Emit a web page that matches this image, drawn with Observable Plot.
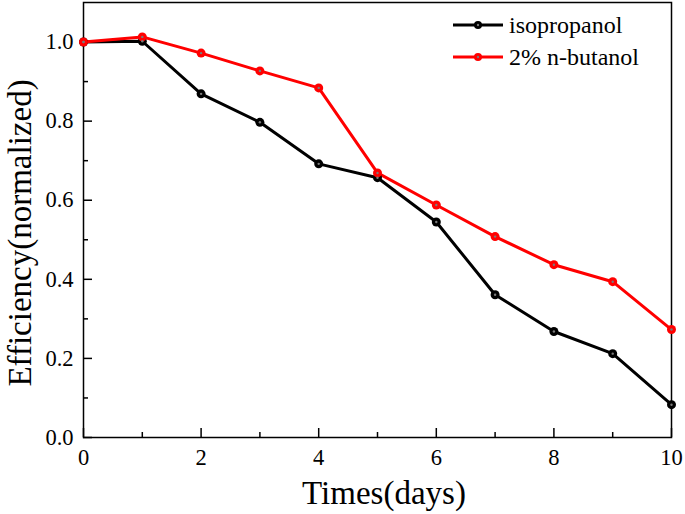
<!DOCTYPE html>
<html>
<head>
<meta charset="utf-8">
<script src="https://cdn.jsdelivr.net/npm/d3@7"></script>
<script src="https://cdn.jsdelivr.net/npm/@observablehq/plot@0.6"></script>
<style>
  html, body { margin: 0; padding: 0; background: #fff; }
  #wrap { position: relative; width: 685px; height: 514px; }
  #legend { position: absolute; left: 453px; top: 9px; font-family: 'Liberation Serif', serif; font-size: 24px; color: #000; }
  #legend .row { display: flex; align-items: center; height: 32px; }
  #legend svg { margin-right: 6px; }
</style>
</head>
<body>
<div id="wrap"><div id="legend"></div></div>
<script>
const days = [0, 1, 2, 3, 4, 5, 6, 7, 8, 9, 10];
const isopropanol = [1.0, 1.002, 0.869, 0.797, 0.692, 0.657, 0.545, 0.361, 0.268, 0.212, 0.083];
const butanol = [1.0, 1.013, 0.972, 0.927, 0.884, 0.669, 0.588, 0.508, 0.437, 0.394, 0.273];
const seriesNames = ["isopropanol", "2% n-butanol"];
const seriesColors = ["#000000", "#ff0000"];
const xMajor = [0, 2, 4, 6, 8, 10];
const xMinor = [1, 3, 5, 7, 9];
const yMajor = [0.0, 0.2, 0.4, 0.6, 0.8, 1.0];
const yMinor = [0.1, 0.3, 0.5, 0.7, 0.9];

const data = [];
[isopropanol, butanol].forEach((vals, s) => {
  days.forEach((d, i) => data.push({series: seriesNames[s], day: d, value: vals[i]}));
});

const font = "Liberation Serif";
const W = 685, H = 514, mL = 83, mR = 14, mT = 2, mB = 77;
const plotW = W - mL - mR, plotH = H - mT - mB;

const chart = Plot.plot({
  width: W,
  height: H,
  marginLeft: mL,
  marginRight: mR,
  marginTop: mT,
  marginBottom: mB,
  style: {fontFamily: font, fontSize: "22px", background: "#fff", color: "#000"},
  x: {domain: [0, 10]},
  y: {domain: [0, 1.1]},
  color: {domain: seriesNames, range: seriesColors},
  marks: [
    Plot.axisX(xMajor, {tickSize: 0, tickPadding: 12, tickFormat: d3.format("d"), fontSize: 22.5, fontFamily: font, label: null}),
    Plot.axisY(yMajor, {tickSize: 0, tickPadding: 10, tickFormat: d3.format(".1f"), fontSize: 22.5, fontFamily: font, label: null}),
    Plot.tickX(xMajor, {x: d => d, insetTop: plotH - 9, stroke: "#000", strokeWidth: 1.5}),
    Plot.tickX(xMinor, {x: d => d, insetTop: plotH - 5, stroke: "#000", strokeWidth: 1.5}),
    Plot.tickY(yMajor, {y: d => d, insetRight: plotW - 9, stroke: "#000", strokeWidth: 1.5}),
    Plot.tickY(yMinor, {y: d => d, insetRight: plotW - 5, stroke: "#000", strokeWidth: 1.5}),
    Plot.frame({stroke: "#000", strokeWidth: 1.5}),
    Plot.line(data, {x: "day", y: "value", z: "series", stroke: "series", strokeWidth: 3}),
    Plot.dot(data, {x: "day", y: "value", fill: "series", r: 4.5}),
    Plot.dot(data, {x: "day", y: "value", fill: "#7a7a7a", r: 1.2})
  ]
});

const svg = d3.select(chart);
svg.append("text")
  .attr("x", 384).attr("y", 504)
  .attr("text-anchor", "middle")
  .style("font-family", font).style("font-size", "33px")
  .text("Times(days)");
svg.append("text")
  .attr("transform", `translate(31,${233}) rotate(-90)`)
  .attr("text-anchor", "middle")
  .style("font-family", font).style("font-size", "33px")
  .text("Efficiency(normalized)");

document.getElementById("wrap").prepend(chart);

const legend = document.getElementById("legend");
seriesNames.forEach((name, i) => {
  const row = document.createElement("div");
  row.className = "row";
  row.innerHTML = `<svg width="50" height="12"><line x1="0" y1="6" x2="50" y2="6" stroke="${seriesColors[i]}" stroke-width="3"/><circle cx="25" cy="6" r="4" fill="${seriesColors[i]}"/><circle cx="25" cy="6" r="1.2" fill="#7a7a7a"/></svg><span>${name}</span>`;
  legend.appendChild(row);
});
</script>
</body>
</html>
